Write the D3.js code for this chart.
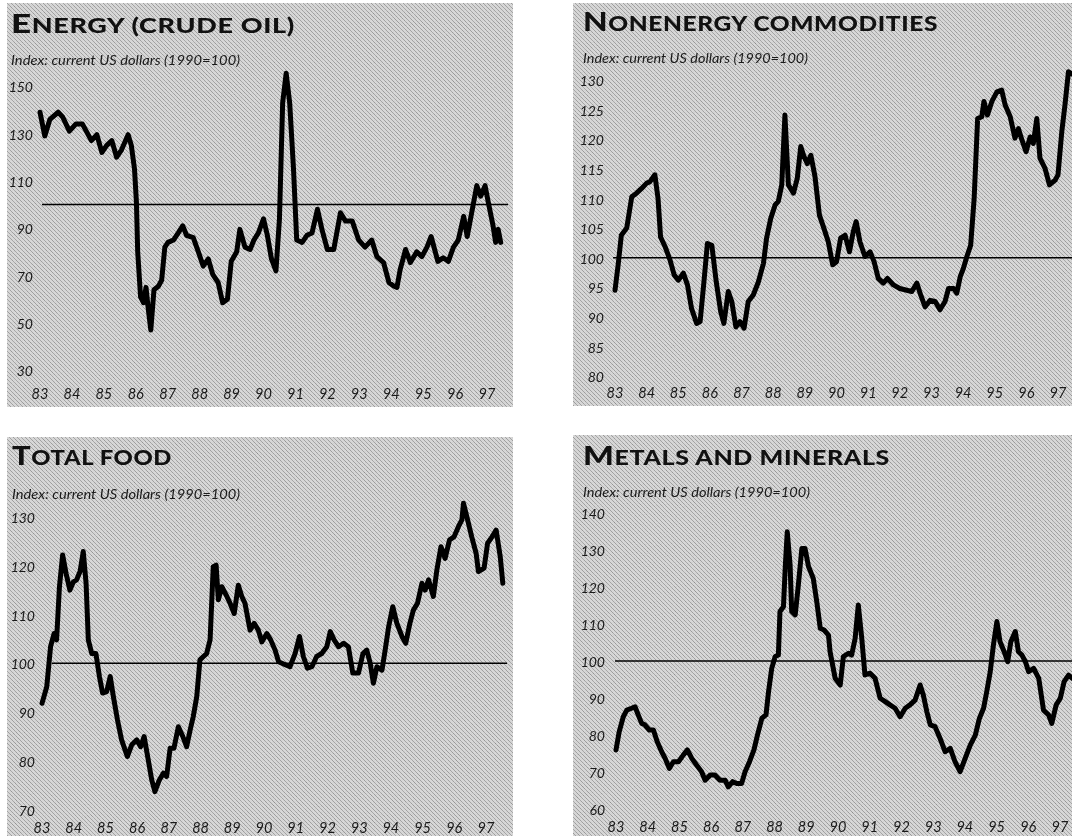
<!DOCTYPE html>
<html>
<head>
<meta charset="utf-8">
<script src="https://cdn.jsdelivr.net/npm/d3@7"></script>
<style>
  body { margin: 0; background: #fff; }
  svg { display: block; }
</style>
</head>
<body>
<div id="chart"></div>
<script>
// tick labels
const yearTicks = d3.range(83, 98);
const energyTicks = [30, 50, 70, 90, 110, 130, 150];
const nonenergyTicks = [80, 85, 90, 95, 100, 105, 110, 115, 120, 125, 130];
const foodTicks = [70, 80, 90, 100, 110, 120, 130];
const metalsTicks = [60, 70, 80, 90, 100, 110, 120, 130, 140];

// series: [year, index value]
const energy = [
  [83.00,139],[83.15,129],[83.31,136],[83.57,139],[83.71,137],[83.92,131],[84.12,134],[84.33,134],
  [84.61,127],[84.78,129.5],[84.94,122],[85.09,125],[85.25,127],[85.40,120],[85.55,123],[85.76,129.5],
  [85.86,125],[85.96,115],[86.02,101],[86.06,80],[86.15,61],[86.24,58.5],[86.32,65],[86.39,56],
  [86.47,47],[86.57,64],[86.71,65.5],[86.81,68],[86.91,82],[87.01,84],[87.18,85],[87.33,88],
  [87.47,91],[87.59,87],[87.80,86],[87.96,80],[88.11,74],[88.27,77],[88.41,70.5],[88.58,67],
  [88.72,58.5],[88.87,60],[88.99,76],[89.16,80],[89.26,89.5],[89.42,82],[89.58,81],[89.70,85],
  [89.84,88],[90.00,94],[90.12,87],[90.25,77],[90.39,72],[90.50,94],[90.60,143],[90.71,155.5],
  [90.82,143],[90.94,115],[91.04,85],[91.21,84],[91.36,87],[91.52,88],[91.69,98],[91.83,89.5],
  [92.00,81],[92.20,81],[92.41,96.5],[92.57,93],[92.78,93],[92.98,85],[93.18,82],[93.39,85],
  [93.55,78],[93.76,75.5],[93.93,67],[94.09,65.5],[94.18,65],[94.28,72.5],[94.45,81],[94.60,75.5],
  [94.80,80],[94.96,78],[95.12,82],[95.25,86.5],[95.46,76],[95.63,77.5],[95.79,76],[95.95,82],
  [96.10,85],[96.27,95],[96.38,86.5],[96.52,96.5],[96.68,108],[96.80,103.5],[96.94,108],[97.04,101],
  [97.19,91],[97.27,84],[97.35,89.5],[97.43,84]
];

const nonenergy = [
  [83.00,94.5],[83.10,98.8],[83.20,103.8],[83.37,105],[83.53,110.3],[83.68,110.9],[83.84,111.7],[84.00,112.6],
  [84.10,112.8],[84.26,114],[84.36,110],[84.44,103.5],[84.58,101.9],[84.74,99.6],[84.87,97.1],[85.00,96.2],
  [85.16,97.4],[85.29,95.4],[85.42,91.4],[85.58,88.9],[85.69,89.2],[85.81,95.9],[85.92,102.4],[86.06,102.1],
  [86.20,95.9],[86.34,90.9],[86.44,88.9],[86.58,94.3],[86.69,92.6],[86.82,88.3],[86.95,89.2],[87.08,88.1],
  [87.21,92.6],[87.37,93.7],[87.53,95.9],[87.69,99],[87.79,103.3],[87.92,106.6],[88.06,108.9],[88.16,109.5],
  [88.27,112.3],[88.37,124.1],[88.48,112.3],[88.64,110.9],[88.76,113.4],[88.87,118.8],[88.97,117.1],[89.08,115.9],
  [89.19,117.3],[89.32,113.7],[89.46,107.2],[89.60,105],[89.74,102.7],[89.88,98.8],[90.00,99.3],[90.13,103.3],
  [90.27,103.8],[90.41,101],[90.53,104.4],[90.62,106.1],[90.74,102.7],[90.90,100.2],[91.06,101],[91.19,99.3],
  [91.32,96.5],[91.48,95.7],[91.61,96.5],[91.80,95.4],[92.00,94.8],[92.22,94.5],[92.38,94.3],[92.54,95.7],
  [92.66,93.7],[92.80,91.7],[92.96,92.8],[93.12,92.6],[93.27,91.2],[93.43,92.6],[93.54,94.8],[93.70,94.8],
  [93.80,94],[93.91,96.8],[94.01,98.2],[94.12,100.2],[94.24,102.1],[94.35,110],[94.46,123.5],[94.59,123.8],
  [94.66,126.4],[94.77,124.1],[94.91,126.4],[95.07,128],[95.22,128.3],[95.33,125.8],[95.49,123.8],[95.64,120.2],
  [95.75,121.8],[95.86,119.9],[95.99,117.9],[96.12,120.4],[96.22,119.3],[96.33,123.5],[96.43,116.8],[96.59,115.1],
  [96.73,112.3],[96.91,113.1],[97.00,114],[97.12,121.3],[97.22,125.8],[97.33,131.4],[97.45,131]
];

const food = [
  [83.00,91.8],[83.15,95.2],[83.27,103.4],[83.38,106.1],[83.46,104.8],[83.55,115.7],[83.65,122.2],[83.76,118.4],
  [83.88,115],[83.99,116.7],[84.09,117.1],[84.20,118.8],[84.30,122.9],[84.39,116.4],[84.46,104.8],[84.57,102],
  [84.70,102],[84.81,97.3],[84.91,93.9],[85.04,94.2],[85.15,97.3],[85.25,93.2],[85.38,88.4],[85.51,84.3],
  [85.69,80.9],[85.83,83.3],[85.99,84.3],[86.11,82.9],[86.22,85],[86.35,80.2],[86.46,76.1],[86.56,73.7],
  [86.70,76.1],[86.83,77.5],[86.93,76.8],[87.04,82.6],[87.16,82.6],[87.30,87],[87.44,85],[87.56,82.9],
  [87.67,86.3],[87.77,89.1],[87.88,93.2],[87.98,100.7],[88.09,101.4],[88.19,102],[88.30,104.8],[88.40,119.8],
  [88.49,120.1],[88.56,113],[88.67,115.7],[88.83,113.7],[88.93,112.3],[89.06,110.2],[89.19,116],[89.30,113.7],
  [89.40,112.3],[89.56,106.8],[89.69,108.2],[89.82,106.8],[89.93,104.4],[90.09,106.1],[90.21,104.8],[90.35,102.7],
  [90.46,100.3],[90.67,99.7],[90.82,99.3],[90.98,102],[91.12,105.5],[91.24,101.4],[91.37,99],[91.51,99.3],
  [91.66,101.4],[91.82,102],[91.98,103.4],[92.09,106.5],[92.21,104.8],[92.35,103.4],[92.51,104.1],[92.66,103.4],
  [92.80,98],[92.98,98],[93.12,102],[93.24,102.7],[93.35,100],[93.45,95.9],[93.56,99.3],[93.72,98.6],
  [93.82,102.7],[93.93,107.5],[94.06,111.6],[94.19,108.2],[94.35,105.5],[94.47,104.1],[94.60,108.2],[94.71,110.9],
  [94.84,112.3],[94.98,116.4],[95.08,115],[95.19,117.1],[95.34,113.7],[95.45,119.1],[95.58,123.9],[95.71,121.5],
  [95.85,125.3],[95.99,125.9],[96.13,128],[96.24,129.4],[96.29,132.8],[96.42,129.4],[96.55,125.9],[96.69,122.5],
  [96.76,118.8],[96.94,119.5],[97.05,124.6],[97.19,125.9],[97.32,127.3],[97.45,121.8],[97.53,116.4]
];

const metals = [
  [83.00,75.9],[83.10,80.8],[83.23,84.9],[83.34,86.7],[83.49,87.2],[83.60,87.6],[83.70,85.4],[83.81,83.1],
  [83.91,82.7],[84.05,81.3],[84.18,81.3],[84.30,78.1],[84.44,75.4],[84.55,73.6],[84.68,70.9],[84.81,72.7],
  [84.97,72.7],[85.12,74.5],[85.25,75.9],[85.39,73.6],[85.54,71.8],[85.70,70],[85.81,67.7],[85.97,69.1],
  [86.12,69.1],[86.28,67.7],[86.44,67.7],[86.54,65.9],[86.68,67.3],[86.81,66.8],[86.96,66.8],[87.07,70],
  [87.21,72.7],[87.35,75.9],[87.46,79.9],[87.60,84.5],[87.73,85.4],[87.81,91.7],[87.91,98],[88.02,101.2],
  [88.12,101.6],[88.17,113.4],[88.28,114.7],[88.34,126],[88.40,135],[88.49,126],[88.54,113.4],[88.65,112.5],
  [88.75,120.6],[88.86,130.5],[88.96,130.5],[89.07,125.6],[89.22,122.4],[89.33,116.1],[89.44,108.9],[89.56,108.4],
  [89.70,107],[89.75,102.5],[89.91,95.3],[90.07,93.5],[90.17,101.2],[90.33,102.1],[90.43,101.6],[90.54,106.1],
  [90.64,115.2],[90.75,106.1],[90.85,96.2],[91.01,96.7],[91.17,95.3],[91.33,89.9],[91.49,89],[91.64,88.1],
  [91.80,87.2],[91.96,84.9],[92.12,87.2],[92.27,88.1],[92.43,89.4],[92.59,93.5],[92.69,90.8],[92.80,86.3],
  [92.91,82.7],[93.06,82.2],[93.22,79],[93.38,75.4],[93.54,76.3],[93.69,72.7],[93.85,70],[94.01,73.6],
  [94.17,77.2],[94.33,79.9],[94.46,84.5],[94.59,87.2],[94.69,91.7],[94.80,97.1],[94.90,104.3],[95.01,110.7],
  [95.11,105.2],[95.24,102.5],[95.35,99.8],[95.45,105.2],[95.59,108],[95.69,102.5],[95.80,101.6],[95.91,99.8],
  [96.01,97.1],[96.17,98],[96.33,95.3],[96.48,86.7],[96.64,85.4],[96.74,83.1],[96.88,88.1],[97.01,89.9],
  [97.13,94.4],[97.27,96.2],[97.39,95.3]
];

const subtitle = "Index: current US dollars (1990=100)";

// layout of the four panels, measured from the page
const panels = [
  { title: "Energy (crude oil)", data: energy, ticks: energyTicks,
    box: [7, 3, 506, 404], xr: [40, 487], dom: [30, 150], yr: [370.2, 86.2],
    tx: 11, ty: 33, tw: 284, sy: 65, sw: 229, lr: 33, xly: 399, ref: [42, 508] },
  { title: "Nonenergy commodities", data: nonenergy, ticks: nonenergyTicks,
    box: [573, 3, 520, 403], xr: [615, 1058], dom: [80, 130], yr: [376.1, 80.1],
    tx: 583, ty: 31, tw: 355, sy: 63, sw: 225, lr: 604, xly: 398, ref: [613, 1080] },
  { title: "Total food", data: food, ticks: foodTicks,
    box: [7, 437, 506, 400], xr: [42, 486], dom: [70, 130], yr: [809.7, 516.9],
    tx: 12, ty: 465, tw: 160, sy: 499, sw: 228, lr: 35, xly: 833, ref: [52, 507] },
  { title: "Metals and minerals", data: metals, ticks: metalsTicks,
    box: [573, 435, 520, 402], xr: [616, 1060], dom: [60, 140], yr: [808.6, 513.4],
    tx: 583, ty: 465, tw: 307, sy: 497, sw: 227, lr: 605, xly: 832, ref: [615, 1080] }
];

const width = 1072, height = 836;

const svg = d3.select("#chart").append("svg")
  .attr("width", width)
  .attr("height", height);

const defs = svg.append("defs");

// halftone-like screen
const pat = defs.append("pattern")
  .attr("id", "screen")
  .attr("patternUnits", "userSpaceOnUse")
  .attr("width", 4).attr("height", 4);
pat.append("rect").attr("width", 4).attr("height", 4).attr("fill", "#d0d0d0");
pat.append("path").attr("d", "M-1,-1 L5,5 M3,-1 L5,1 M-1,3 L1,5")
  .attr("stroke", "#939393").attr("stroke-width", 1);

const grain = defs.append("filter").attr("id", "grain")
  .attr("x", 0).attr("y", 0).attr("width", "100%").attr("height", "100%");
grain.append("feTurbulence")
  .attr("type", "fractalNoise").attr("baseFrequency", 0.9)
  .attr("numOctaves", 2).attr("seed", 7).attr("result", "n");
grain.append("feColorMatrix").attr("in", "n").attr("type", "matrix")
  .attr("values", "1 0 0 0 0  1 0 0 0 0  1 0 0 0 0  0 0 0 0 1");

panels.forEach(p => {
  const g = svg.append("g");
  const [bx, by, bw, bh] = p.box;

  g.append("rect")
    .attr("x", bx).attr("y", by).attr("width", bw).attr("height", bh)
    .attr("fill", "url(#screen)");
  g.append("rect")
    .attr("x", bx).attr("y", by).attr("width", bw).attr("height", bh)
    .attr("filter", "url(#grain)")
    .style("opacity", 0.3)
    .style("mix-blend-mode", "overlay");

  const x = d3.scaleLinear().domain([83, 97]).range(p.xr);
  const y = d3.scaleLinear().domain(p.dom).range(p.yr);

  // title in small caps
  const t = g.append("text")
    .attr("x", p.tx).attr("y", p.ty)
    .attr("textLength", p.tw)
    .attr("lengthAdjust", "spacingAndGlyphs")
    .style("font-family", "Lato, 'Open Sans', sans-serif")
    .style("font-weight", 900)
    .style("letter-spacing", "0.5px")
    .style("fill", "#111");
  t.append("tspan").style("font-size", "26px").text(p.title[0].toUpperCase());
  t.append("tspan").style("font-size", "20px").text(p.title.slice(1).toUpperCase());

  g.append("text")
    .attr("x", p.tx).attr("y", p.sy)
    .attr("textLength", p.sw)
    .attr("lengthAdjust", "spacingAndGlyphs")
    .style("font-family", "Lato, 'Open Sans', sans-serif")
    .style("font-style", "italic")
    .style("font-weight", 400)
    .style("font-size", "12.5px")
    .style("fill", "#1a1a1a")
    .text(subtitle);

  // y tick labels
  g.selectAll(".ylab")
    .data(p.ticks)
    .enter().append("text")
    .attr("class", "ylab")
    .attr("x", p.lr)
    .attr("y", d => y(d) + 6)
    .attr("text-anchor", "end")
    .style("font-family", "Lato, 'Open Sans', sans-serif")
    .style("font-style", "italic")
    .style("font-weight", 400)
    .style("font-size", "14px")
    .style("fill", "#1a1a1a")
    .text(d => d);

  // x tick labels
  g.selectAll(".xlab")
    .data(yearTicks)
    .enter().append("text")
    .attr("class", "xlab")
    .attr("x", d => x(d))
    .attr("y", p.xly)
    .attr("text-anchor", "middle")
    .style("font-family", "Lato, 'Open Sans', sans-serif")
    .style("font-style", "italic")
    .style("font-weight", 400)
    .style("font-size", "14.5px")
    .style("fill", "#1a1a1a")
    .text(d => d);

  // 1990 = 100 line
  g.append("line")
    .attr("x1", p.ref[0]).attr("x2", p.ref[1])
    .attr("y1", y(100)).attr("y2", y(100))
    .attr("stroke", "#000")
    .attr("stroke-width", 1.5);

  const line = d3.line()
    .x(d => x(d[0]))
    .y(d => y(d[1]));

  g.append("path")
    .datum(p.data)
    .attr("d", line)
    .attr("fill", "none")
    .attr("stroke", "#000")
    .attr("stroke-width", 5)
    .attr("stroke-linejoin", "round")
    .attr("stroke-linecap", "round");
});
</script>
</body>
</html>
